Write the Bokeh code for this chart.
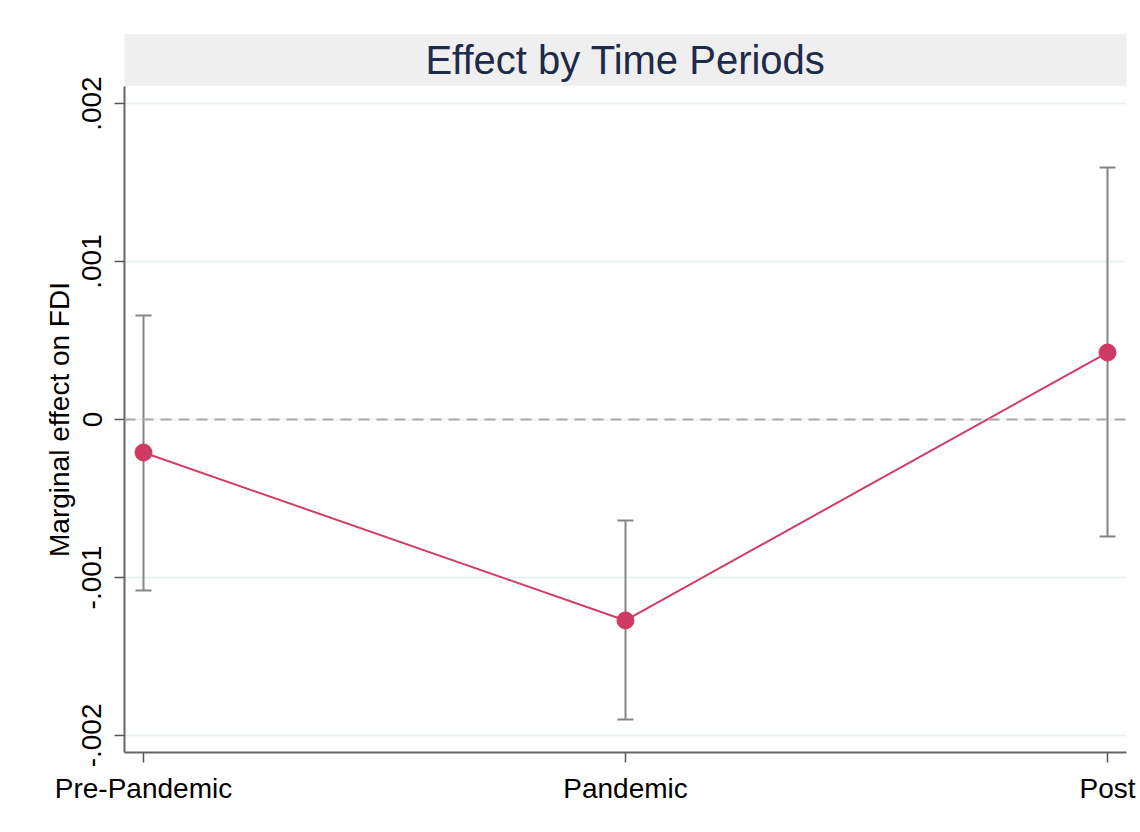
from bokeh.plotting import figure
from bokeh.models import (Range1d, FixedTicker, CustomJSTickFormatter, Span, Whisker,
                          TeeHead, ColumnDataSource, Title)
from bokeh.embed import file_html
from bokeh.resources import INLINE

# ---- data ----
periods = ["Pre-Pandemic", "Pandemic", "Post"]
effect = [-0.000209, -0.001272, 0.000424]
ci_lower = [-0.001082, -0.001899, -0.000741]
ci_upper = [0.000658, -0.000639, 0.001595]
y_ticks = [-0.002, -0.001, 0.0, 0.001, 0.002]
y_tick_labels = ["-.002", "-.001", "0", ".001", ".002"]

FONT = "Liberation Sans"
xpos = list(range(len(periods)))

src = ColumnDataSource(dict(x=xpos, y=effect, lo=ci_lower, hi=ci_upper))

p = figure(width=1140, height=832, output_backend="svg", toolbar_location=None,
           x_range=Range1d(-0.0394, 2.0394), y_range=Range1d(-0.002108, 0.002108),
           min_border_left=124, min_border_right=14, min_border_bottom=80,
           min_border_top=86)
p.outline_line_color = None
p.background_fill_color = "white"
p.border_fill_color = "white"

p.title = Title(text="Effect by Time Periods", align="center",
                text_font=FONT, text_font_size="40px", text_font_style="normal",
                text_color="#1e2a4a", background_fill_color="#efefef",
                padding=(301, 4), offset=0, standoff=1)

# axes
for ax in (p.xaxis[0], p.yaxis[0]):
    ax.axis_line_color = "#666666"
    ax.axis_line_width = 2
    ax.major_tick_line_color = "#555555"
    ax.major_tick_line_width = 1.5
    ax.major_tick_out = 10
    ax.major_tick_in = 0
    ax.minor_tick_line_color = None
    ax.major_label_text_font = FONT
    ax.major_label_text_font_size = "28px"
    ax.major_label_text_color = "black"
    ax.major_label_standoff = 10

p.xaxis.ticker = FixedTicker(ticks=xpos)
p.xaxis.major_label_overrides = {i: lab for i, lab in enumerate(periods)}

p.yaxis.ticker = FixedTicker(ticks=y_ticks)
p.yaxis.formatter = CustomJSTickFormatter(
    args=dict(tvals=y_ticks, tlabels=y_tick_labels),
    code="""
    for (let i = 0; i < tvals.length; i++) {
        if (Math.abs(tick - tvals[i]) < 1e-9) return tlabels[i];
    }
    return '';
    """)
p.yaxis.major_label_orientation = "vertical"
p.yaxis.major_label_standoff = 13
p.yaxis.axis_label = "Marginal effect on FDI"
p.yaxis.axis_label_text_font = FONT
p.yaxis.axis_label_text_font_size = "28px"
p.yaxis.axis_label_text_font_style = "normal"
p.yaxis.axis_label_text_color = "black"
p.yaxis.axis_label_standoff = 5

# grids
p.xgrid.grid_line_color = None
p.ygrid.ticker = FixedTicker(ticks=y_ticks)
p.ygrid.grid_line_color = "#e4f0f1"
p.ygrid.grid_line_width = 1.5

# zero line
p.add_layout(Span(location=0, dimension="width", line_color="#a8a8a8",
                  line_width=2, line_dash="11 7"))

# error bars
w = Whisker(base="x", upper="hi", lower="lo", source=src, dimension="height",
            line_color="#858585", line_width=2,
            upper_head=TeeHead(size=16, line_color="#858585", line_width=2),
            lower_head=TeeHead(size=16, line_color="#858585", line_width=2))
p.add_layout(w)

# line and points
p.line("x", "y", source=src, line_color="#d23c62", line_width=2)
p.scatter("x", "y", source=src, size=17, fill_color="#cf3a62", line_color="#cf3a62")

open("out.html", "w").write(file_html(p, INLINE))
